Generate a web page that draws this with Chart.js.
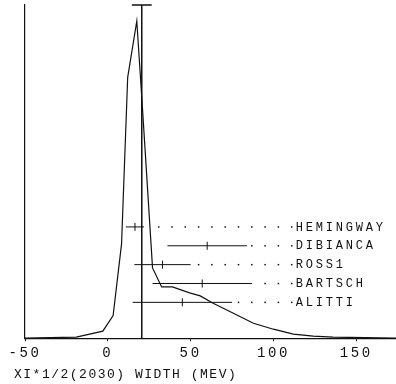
<!DOCTYPE html>
<html>
<head>
<meta charset="utf-8">
<script src="https://cdn.jsdelivr.net/npm/chart.js@4"></script>
<style>
  html, body { margin: 0; padding: 0; background: #fff; }
  #wrap { width: 396px; height: 384px; }
</style>
</head>
<body>
<div id="wrap"><canvas id="chart" width="396" height="384"></canvas></div>
<script>
// ideogram curve (x in MeV, relative height)
const curveX = [-50, -19, -3, 3.2, 8.3, 12, 17.5, 21, 27, 32.5, 39, 49.4, 55.8, 63.6, 75.8, 87.9, 100, 112, 124, 136, 174];
const curveY = [0, 0.003, 0.021, 0.068, 0.283, 0.783, 0.952, 0.684, 0.211, 0.154, 0.154, 0.136, 0.127, 0.105, 0.075, 0.045, 0.027, 0.012, 0.006, 0.003, 0];

// measurements
const expNames = ['HEMINGWAY', 'DIBIANCA', 'ROSS1', 'BARTSCH', 'ALITTI'];
const expValues = [16.4, 60, 33, 57, 45];
const expErrors = [5.5, 24, 17, 30, 30];

// weighted average
const avgValue = 20.5;
const avgError = 6;

const tickValues = [-50, 0, 50, 100, 150];
const axisTitle = 'XI*1/2(2030) WIDTH (MEV)';

const ink = '#111';
const monoFont = '"Liberation Mono", "DejaVu Sans Mono", monospace';

const ideogramPlugin = {
    id: 'ideogram',
    beforeDraw(chart) {
        chart.ctx.letterSpacing = '2.6px';
    },
    afterDatasetsDraw(chart) {
        const ctx = chart.ctx;
        const xs = chart.scales.x;
        const ys = chart.scales.y;
        ctx.save();
        ctx.strokeStyle = ink;
        ctx.fillStyle = ink;
        ctx.lineWidth = 1;

        // average line with error cap
        const ax = xs.getPixelForValue(avgValue);
        ctx.beginPath();
        ctx.moveTo(ax, ys.getPixelForValue(0));
        ctx.lineTo(ax, ys.getPixelForValue(1));
        ctx.moveTo(xs.getPixelForValue(avgValue - avgError), ys.getPixelForValue(1));
        ctx.lineTo(xs.getPixelForValue(avgValue + avgError), ys.getPixelForValue(1));
        ctx.lineWidth = 1.5;
        ctx.stroke();

        // each measurement row
        const labelX = xs.getPixelForValue(111);
        ctx.font = '12px ' + monoFont;
        ctx.letterSpacing = '2.8px';
        ctx.textBaseline = 'middle';
        expNames.forEach((name, i) => {
            const y = ys.getPixelForValue(0.334 - i * 0.0566);
            const x0 = xs.getPixelForValue(expValues[i] - expErrors[i]);
            const x1 = xs.getPixelForValue(expValues[i] + expErrors[i]);
            const xc = xs.getPixelForValue(expValues[i]);
            ctx.lineWidth = 1;
            ctx.beginPath();
            ctx.moveTo(x0, y);
            ctx.lineTo(x1, y);
            ctx.moveTo(xc, y - 4);
            ctx.lineTo(xc, y + 4);
            ctx.stroke();
            for (let dx = labelX; dx > x1 + 3; dx -= 13.3) {
                ctx.fillRect(dx - 0.7, y - 0.7, 1.5, 1.5);
            }
            ctx.textAlign = 'left';
            ctx.fillText(name, labelX + 4, y + 0.5);
        });

        // axis title
        ctx.font = '13px ' + monoFont;
        ctx.letterSpacing = '1.5px';
        ctx.textBaseline = 'middle';
        ctx.fillText(axisTitle, 14, 375);
        ctx.restore();
    }
};

new Chart(document.getElementById('chart'), {
    type: 'scatter',
    data: {
        datasets: [{
            data: curveX.map((x, i) => ({ x: x, y: curveY[i] })),
            showLine: true,
            borderColor: ink,
            borderWidth: 1.2,
            pointRadius: 0,
            tension: 0
        }]
    },
    options: {
        responsive: false,
        animation: false,
        layout: { padding: { left: 17, top: 5, right: 0, bottom: 18 } },
        plugins: { legend: { display: false }, tooltip: { enabled: false } },
        scales: {
            x: {
                type: 'linear',
                min: -50,
                max: 174,
                afterBuildTicks(scale) {
                    scale.ticks = tickValues.map(v => ({ value: v }));
                },
                grid: { display: true, drawOnChartArea: false, tickLength: 3, color: ink },
                border: { display: true, color: ink, width: 1.2 },
                ticks: {
                    color: ink,
                    font: { family: monoFont, size: 14 },
                    padding: 4,
                    maxRotation: 0
                }
            },
            y: {
                min: 0,
                max: 1,
                display: true,
                ticks: { display: false },
                grid: { display: false },
                border: { display: true, color: ink, width: 1.2 }
            }
        }
    },
    plugins: [ideogramPlugin]
});
</script>
</body>
</html>
